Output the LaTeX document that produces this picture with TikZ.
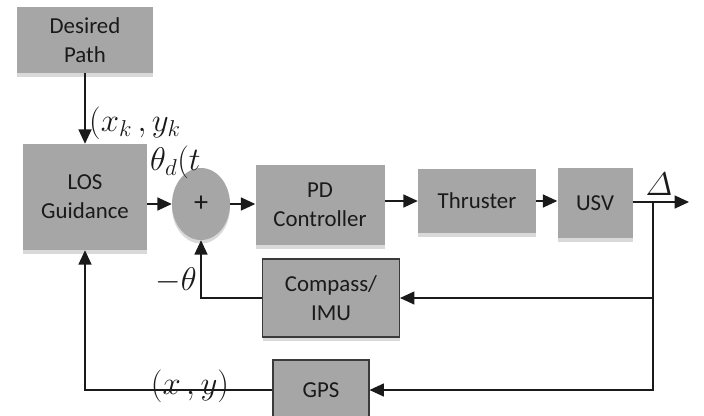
\RequirePackage{fix-cm}
\documentclass[tikz,border=0pt]{standalone}
\usepackage{amsmath}
\usepackage{fontspec}
\setmainfont{Carlito}
\usepackage{xcolor}
\usepackage{tikz}
\usetikzlibrary{arrows.meta,shapes.geometric,shadows}
\definecolor{boxgray}{HTML}{A6A6A6}
\definecolor{edgex}{HTML}{3A3A3A}
\definecolor{inkx}{HTML}{1A1A1A}
\tikzset{
  ar/.style={-{Triangle[length=4.3mm,width=3.9mm]},line width=1pt,inkx},
  box/.style={fill=boxgray,align=center,inner sep=2pt,text=inkx,
    font=\fontsize{19.5}{25}\selectfont,
    drop shadow={shadow xshift=0pt,shadow yshift=-3pt,opacity=0.3}},
  sens/.style={box,draw=edgex,line width=0.9pt},
  sig/.style={font=\fontsize{28}{32}\selectfont,inner sep=0pt,text=inkx}
}

\begin{document}
\begin{tikzpicture}[x=0.03cm,y=-0.03cm]
\useasboundingbox (0,0) rectangle (704,415);
% blocks
\node[box,minimum width=4.08cm,minimum height=1.98cm] (path) at (85,40) {Desired\\Path};
\node[box,minimum width=3.72cm,minimum height=3.18cm] (los) at (85,197) {LOS\\Guidance};
\node[box,ellipse,minimum width=1.74cm,minimum height=2.16cm,font=\fontsize{24}{28}\selectfont] (sum) at (201,204) {+};
\node[box,minimum width=3.87cm,minimum height=2.4cm] (pd) at (320,205) {PD\\Controller};
\node[box,minimum width=3.54cm,minimum height=1.92cm] (thr) at (477,201) {Thruster};
\node[box,minimum width=2.25cm,minimum height=2.1cm] (usv) at (595,203) {USV};
\node[sens,minimum width=4.11cm,minimum height=2.34cm] (imu) at (331,298) {Compass/\\IMU};
\node[sens,minimum width=2.88cm,minimum height=1.8cm] (gps) at (321,390) {GPS};
\coordinate (out) at (689,202);
\coordinate (tap) at (653,202);
% forward path
\draw[ar] (path.south) -- (los.north);
\draw[ar] (los.east|-sum.west) -- (sum.west);
\draw[ar] (sum.east) -- (sum.east-|pd.west);
\draw[ar] (pd.east|-thr.west) -- (thr.west);
\draw[ar] (thr.east) -- (thr.east-|usv.west);
\draw[ar] (usv.east|-out) -- (out);
% feedback
\draw[ar] (tap) |- (imu.east);
\draw[ar] (tap) |- (gps.east);
\draw[ar] (imu.west) -| (sum.south);
\draw[ar] (gps.west) -| (los.south);
% signals
\node[sig,anchor=west] (xk) at (89,123) {$\left(x_k\,,y_k\right.$};
\node[sig] (thd) at (176,162) {$\theta_d\!\left(t\right.$};
\node[sig] (dl) at (659,184) {$\varDelta$};
\node[sig] (th) at (176,280) {$-\theta$};
\node[sig] (xy) at (190,386) {$\left(x\,,y\right)$};
\end{tikzpicture}
\end{document}
